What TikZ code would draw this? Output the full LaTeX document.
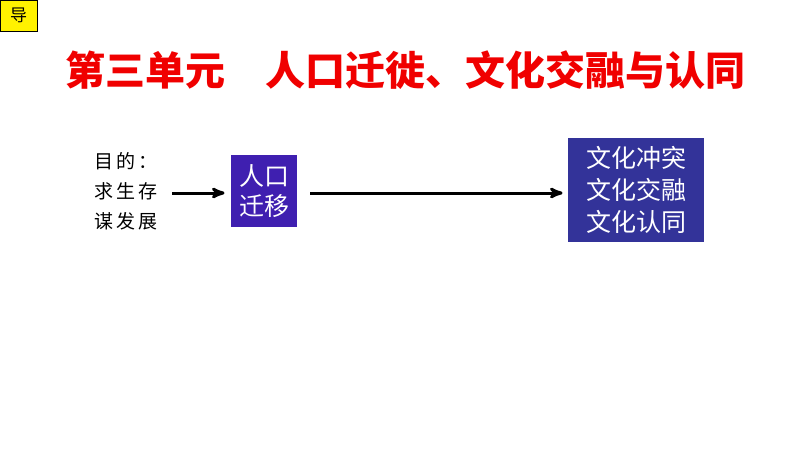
\documentclass[tikz,border=0pt]{standalone}
\usepackage{fontspec}
\setmainfont{Noto Sans CJK SC}
\usetikzlibrary{arrows,positioning}
\definecolor{boxblue}{HTML}{3F1FB0}
\definecolor{darkblue}{HTML}{333399}
\definecolor{titlered}{HTML}{F00000}
\begin{document}
\begin{tikzpicture}[x=1pt,y=-1pt,>=stealth',line width=3pt,
  box/.style={fill=boxblue,text=white,font=\fontsize{25}{30}\selectfont,align=center,inner sep=2pt}]
\useasboundingbox (0,0) rectangle (794,453);

\node[fill=yellow,draw=black,thin,minimum width=37,minimum height=31,anchor=north west,font=\fontsize{17}{19}\selectfont] (tag) at (0,0) {导};
\node[text=titlered,font=\fontsize{40}{44}\bfseries\selectfont] (title) at (405,70) {第三单元\quad 人口迁徙、文化交融与认同};

\node[align=left,font=\fontsize{19}{30}\selectfont,inner sep=0pt] (aim) at (126,191) {目\,的\,：\\求\,生\,存\\谋\,发\,展};
\node[box,minimum width=66,minimum height=72] (move) at (264,191) {人口\\迁移};
\node[box,fill=darkblue,font=\fontsize{25}{32}\selectfont,minimum width=136,minimum height=104] (culture) at (636,190) {文化冲突\\文化交融\\文化认同};

\coordinate (a0) at (172,193);
\coordinate (a1) at (310,193);
\draw[->] (a0) -- ([xshift=-5pt]move.west |- a0);
\draw[->] (a1) -- ([xshift=-4pt]culture.west |- a1);

\end{tikzpicture}
\end{document}
